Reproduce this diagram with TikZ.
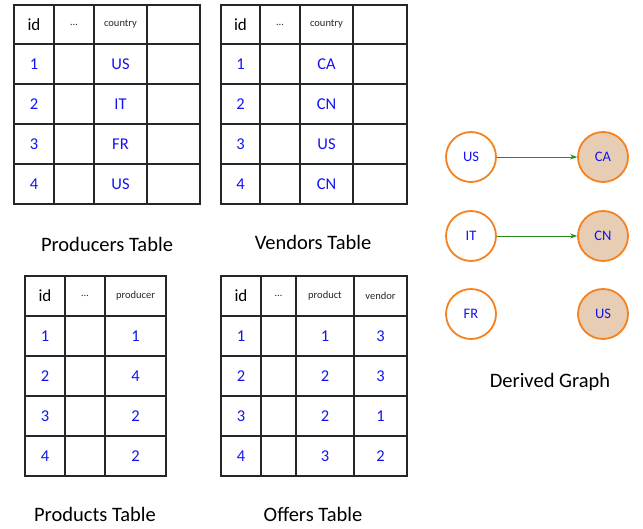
\documentclass[tikz,border=0pt]{standalone}
\usepackage{fontspec}
\setmainfont{Carlito}
\usetikzlibrary{arrows.meta}
\definecolor{vorange}{HTML}{F5821F}
\definecolor{vtan}{HTML}{E6CDB4}
\definecolor{vgreen}{HTML}{2A8C1E}
\definecolor{vblue}{HTML}{1414F0}
\tikzset{
  grid/.style={line width=1.2pt, draw=black!85},
  hd/.style={font=\fontsize{17}{17}\selectfont, text=black},
  hsmall/.style={font=\fontsize{10.5}{10.5}\selectfont, text=black!85},
  cell/.style={font=\fontsize{16.5}{16.5}\selectfont, text=vblue},
  caption/.style={font=\fontsize{20.5}{20.5}\selectfont, text=black},
  vtx/.style={circle, draw=vorange, line width=1.8pt, minimum size=50pt, inner sep=0pt,
              font=\fontsize{14.5}{14.5}\selectfont, text=vblue, fill=white},
  tgt/.style={vtx, fill=vtan},
  link/.style={draw=vgreen, line width=0.8pt, -{Stealth[length=7pt,width=5pt]}}
}
\begin{document}
\begin{tikzpicture}[x=1pt, y=-1pt]
\useasboundingbox (0,0) rectangle (643,529);

% Producers table
\draw[grid] (14,5) rectangle (200,204);
\foreach \x in {54,94,147} \draw[grid] (\x,5) -- (\x,204);
\foreach \y in {44,84,124,164} \draw[grid] (14,\y) -- (200,\y);
\node[hd] (p-idh) at (34,24.5) {id};
\node[hsmall] (p-dots) at (74,24.5) {\ldots};
\node[hsmall] (p-country) at (120.5,24.5) {country};
\foreach \c [count=\r] in {US,IT,FR,US} {
  \node[cell] (p-id\r) at (34,24+40*\r) {\r};
  \node[cell] (p-c\r) at (120.5,24+40*\r) {\c};
}
\node[caption] (p-cap) at (107,244) {Producers Table};

% Vendors table
\draw[grid] (221,5) rectangle (407,204);
\foreach \x in {260,300,353} \draw[grid] (\x,5) -- (\x,204);
\foreach \y in {44,84,124,164} \draw[grid] (221,\y) -- (407,\y);
\node[hd] (v-idh) at (240.5,24.5) {id};
\node[hsmall] (v-dots) at (280,24.5) {\ldots};
\node[hsmall] (v-country) at (326.5,24.5) {country};
\foreach \c [count=\r] in {CA,CN,US,CN} {
  \node[cell] (v-id\r) at (240.5,24+40*\r) {\r};
  \node[cell] (v-c\r) at (326.5,24+40*\r) {\c};
}
\node[caption] (v-cap) at (313,242) {Vendors Table};

% Products table
\draw[grid] (25,276) rectangle (166,476);
\foreach \x in {65,105} \draw[grid] (\x,276) -- (\x,476);
\foreach \y in {316,356,396,436} \draw[grid] (25,\y) -- (166,\y);
\node[hd] (pr-idh) at (45,296) {id};
\node[hsmall] (pr-dots) at (85,296) {\ldots};
\node[hsmall] (pr-producer) at (135.5,296) {producer};
\foreach \c [count=\r] in {1,4,2,2} {
  \node[cell] (pr-id\r) at (45,296+40*\r) {\r};
  \node[cell] (pr-c\r) at (135.5,296+40*\r) {\c};
}
\node[caption] (pr-cap) at (95,514) {Products Table};

% Offers table
\draw[grid] (221,276) rectangle (407,476);
\foreach \x in {261,296,354} \draw[grid] (\x,276) -- (\x,476);
\foreach \y in {316,356,396,436} \draw[grid] (221,\y) -- (407,\y);
\node[hd] (o-idh) at (241,296) {id};
\node[hsmall] (o-dots) at (278.5,296) {\ldots};
\node[hsmall] (o-product) at (325,296) {product};
\node[hsmall] (o-vendor) at (380.5,296) {vendor};
\foreach \p/\v [count=\r] in {1/3,2/3,2/1,3/2} {
  \node[cell] (o-id\r) at (241,296+40*\r) {\r};
  \node[cell] (o-p\r) at (325,296+40*\r) {\p};
  \node[cell] (o-v\r) at (380.5,296+40*\r) {\v};
}
\node[caption] (o-cap) at (313,514) {Offers Table};

% Derived graph
\node[vtx] (g-us) at (471,157) {US};
\node[vtx] (g-it) at (471,236) {IT};
\node[vtx] (g-fr) at (471,314) {FR};
\node[tgt] (g-ca) at (603,157) {CA};
\node[tgt] (g-cn) at (603,236) {CN};
\node[tgt] (g-us2) at (603,314) {US};
\draw[link] (g-us) -- (g-ca);
\draw[link] (g-it) -- (g-cn);
\node[caption] (g-cap) at (550,382) {Derived Graph};
\end{tikzpicture}
\end{document}
